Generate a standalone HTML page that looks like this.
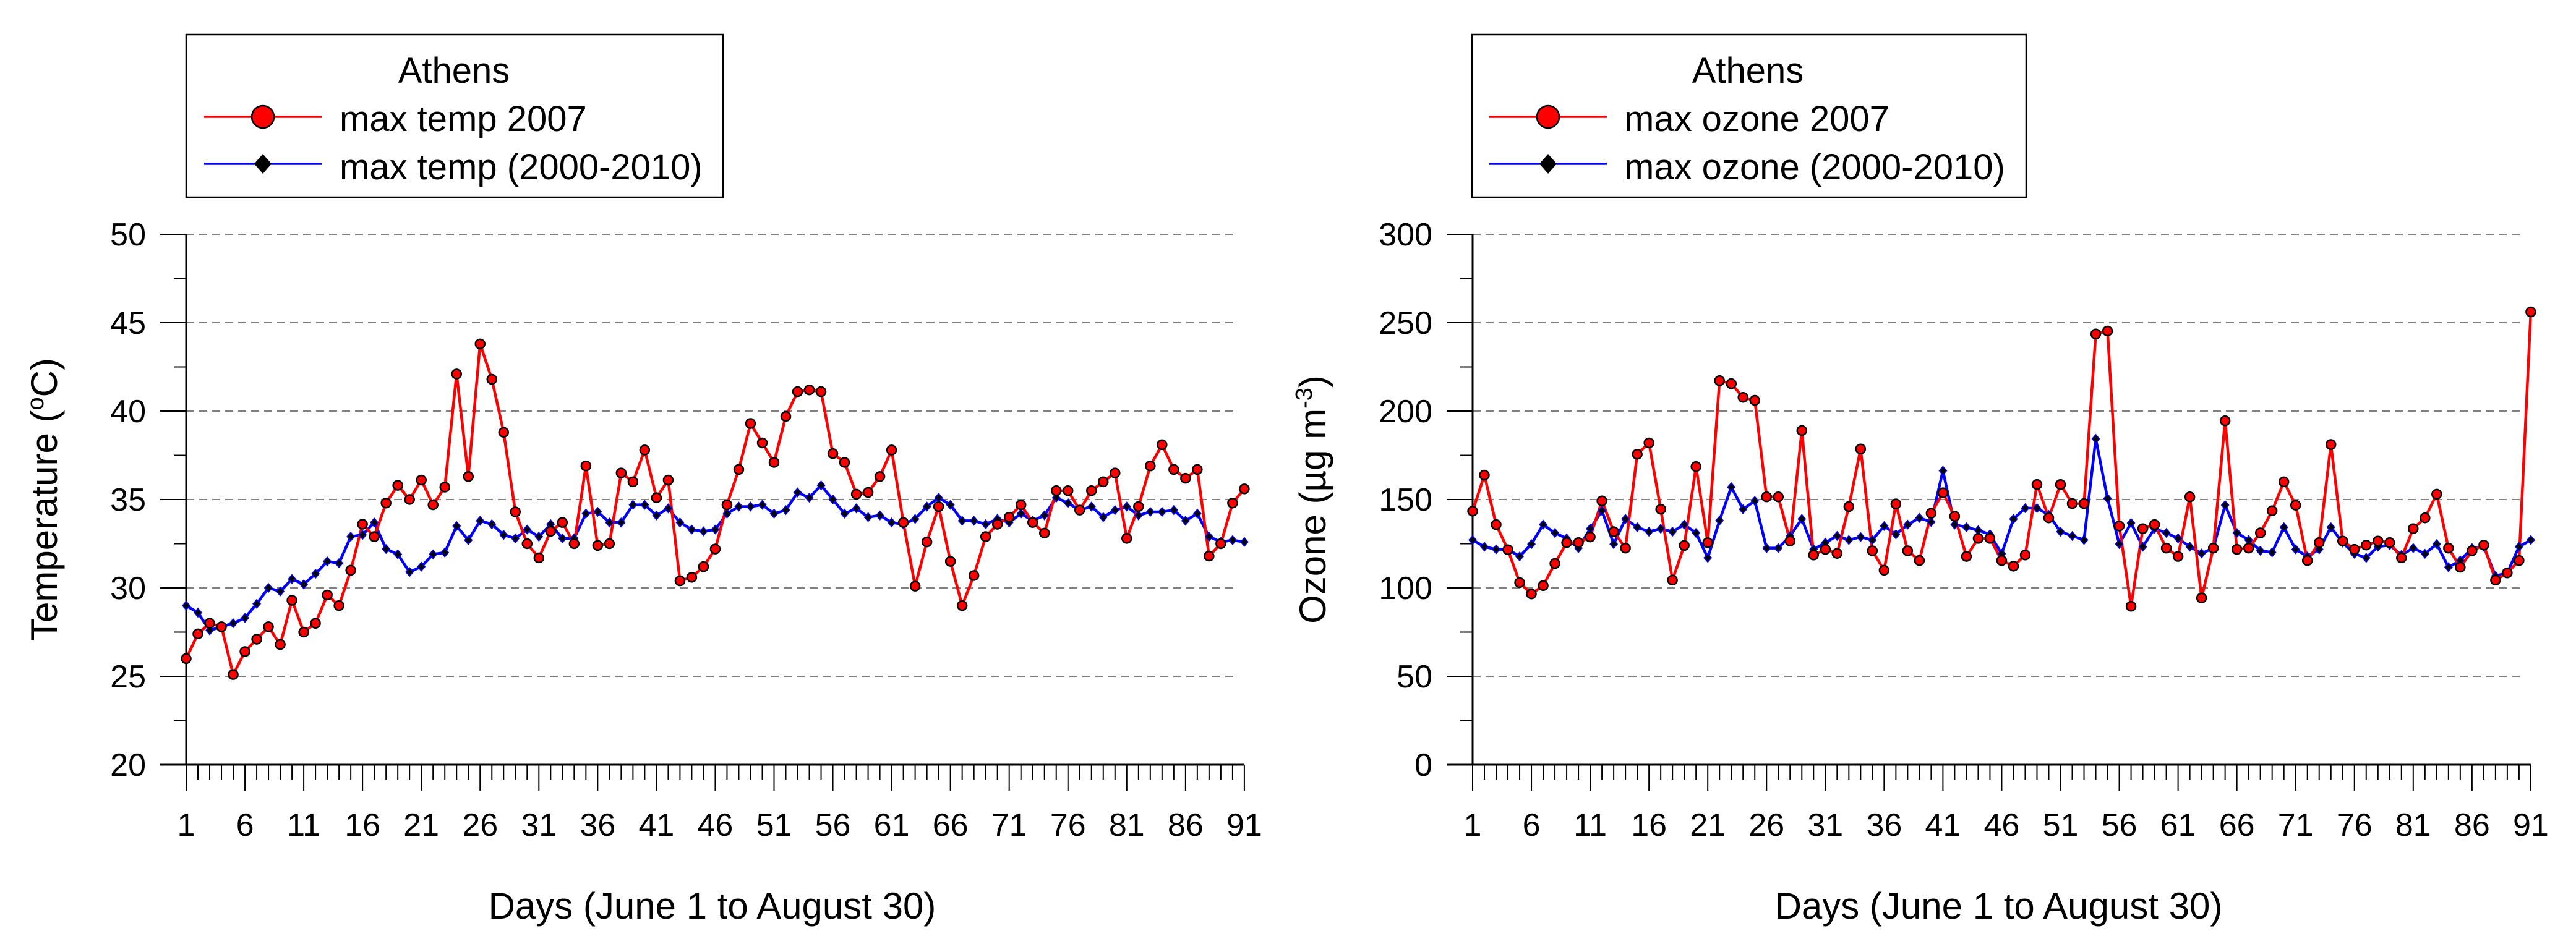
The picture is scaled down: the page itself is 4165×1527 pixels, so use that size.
<!DOCTYPE html>
<html><head><meta charset="utf-8"><style>
html,body{margin:0;padding:0;background:#fff;}
svg{display:block;font-family:"Liberation Sans",Arial,sans-serif;}
</style></head><body>
<svg id="svg" width="4165" height="1527" viewBox="0 0 4165 1527" xmlns="http://www.w3.org/2000/svg"></svg>
<script>
const days = Array.from({length:91},(_,i)=>i+1);
const tempYearValues = [26.0,27.4,28.0,27.8,25.1,26.4,27.1,27.8,26.8,29.3,27.5,28.0,29.6,29.0,31.0,33.6,32.9,34.8,35.8,35.0,36.1,34.7,35.7,42.1,36.3,43.8,41.8,38.8,34.3,32.5,31.7,33.2,33.7,32.5,36.9,32.4,32.5,36.5,36.0,37.8,35.1,36.1,30.4,30.6,31.2,32.2,34.7,36.7,39.3,38.2,37.1,39.7,41.1,41.2,41.1,37.6,37.1,35.3,35.4,36.3,37.8,33.7,30.1,32.6,34.6,31.5,29.0,30.7,32.9,33.6,34.0,34.7,33.7,33.1,35.5,35.5,34.4,35.5,36.0,36.5,32.8,34.6,36.9,38.1,36.7,36.2,36.7,31.8,32.5,34.8,35.6];
const tempClimValues = [29.0,28.6,27.6,27.8,28.0,28.3,29.1,30.0,29.8,30.5,30.2,30.8,31.5,31.4,32.9,33.0,33.7,32.2,31.9,30.9,31.2,31.9,32.0,33.5,32.7,33.8,33.6,33.0,32.8,33.3,32.9,33.6,32.8,32.8,34.2,34.3,33.7,33.7,34.7,34.7,34.1,34.5,33.7,33.3,33.2,33.3,34.2,34.6,34.6,34.7,34.2,34.4,35.4,35.1,35.8,35.0,34.2,34.5,34.0,34.1,33.7,33.6,33.9,34.6,35.1,34.7,33.8,33.8,33.6,33.9,33.7,34.2,33.8,34.1,35.1,34.8,34.4,34.6,34.0,34.4,34.6,34.1,34.3,34.3,34.4,33.8,34.2,32.9,32.6,32.7,32.6];
const ozoneYearValues = [143.4,163.8,135.8,121.6,103.0,96.6,101.3,113.8,125.6,125.6,128.8,149.2,131.8,122.5,175.6,182.0,144.5,104.4,124.0,168.6,125.6,217.2,215.5,207.8,206.1,151.5,151.5,126.5,189.0,118.6,121.8,119.5,146.0,178.6,121.0,110.0,147.5,121.0,115.5,142.2,153.8,140.5,117.8,128.0,128.0,115.5,112.3,118.6,158.5,139.6,158.5,147.7,147.7,243.6,245.3,135.0,89.6,133.5,135.8,122.5,117.8,151.5,94.3,122.5,194.5,121.8,122.5,131.1,143.6,160.0,146.8,115.5,125.6,181.1,126.5,121.8,124.2,126.5,125.6,117.0,133.5,139.6,153.0,122.5,111.7,121.0,124.2,104.4,108.5,115.5,256.1];
const ozoneClimValues = [127.1,123.3,121.8,121.8,117.8,124.8,135.8,131.1,128.0,122.5,133.5,143.6,124.8,139.0,134.3,131.8,133.5,131.8,135.8,131.1,117.0,138.1,157.0,144.5,149.2,122.5,122.5,129.4,139.0,121.8,125.6,129.4,127.1,128.8,127.1,135.0,130.3,135.8,139.6,137.3,166.3,135.8,134.3,132.6,130.3,119.3,139.0,145.1,145.1,141.3,131.8,129.4,127.1,184.3,150.6,124.8,136.7,123.3,133.5,131.1,128.0,123.3,119.5,122.5,146.8,131.1,127.1,121.0,120.1,134.3,121.8,117.8,121.8,134.3,125.6,119.3,117.0,123.3,124.2,118.6,122.5,119.3,124.8,111.7,115.5,122.5,123.3,106.8,108.5,123.3,127.1];
const tempTicks = [20,25,30,35,40,45,50];
const ozoneTicks = [0,50,100,150,200,250,300];
const dayTickLabels = [1,6,11,16,21,26,31,36,41,46,51,56,61,66,71,76,81,86,91];

const NS='http://www.w3.org/2000/svg';
const svg=document.getElementById('svg');
function mk(tag,attrs,parent){const e=document.createElementNS(NS,tag);for(const k in attrs)e.setAttribute(k,attrs[k]);(parent||svg).appendChild(e);return e;}

function drawPanel(cfg){
  const g=mk('g',{});
  
  
  const x0=cfg.x0, x91=cfg.x0+90*19.01, yTop=379, yBot=1237;
  const gridEnd=x91-10;
  const xs=d=>x0+(d-1)*(x91-x0)/90;
  const ys=v=>yBot-(v-cfg.min)/(cfg.max-cfg.min)*(yBot-yTop);
  cfg.ticks.forEach(t=>{
    if(t===cfg.min) return;
    const l=mk('line',{x1:x0,x2:gridEnd,y1:ys(t),y2:ys(t),stroke:'#808080','stroke-width':2,'stroke-dasharray':'13,8'},g);
    
    
  });
  const step=cfg.ticks[1]-cfg.ticks[0];
  cfg.ticks.forEach((t,i)=>{
    mk('line',{x1:x0-42,x2:x0,y1:ys(t),y2:ys(t),stroke:'#000','stroke-width':2},g);
    if(i<cfg.ticks.length-1){const m=t+step/2;mk('line',{x1:x0-20,x2:x0,y1:ys(m),y2:ys(m),stroke:'#000','stroke-width':2},g);}
    const tx=mk('text',{x:x0-65,y:ys(t)+18,'text-anchor':'end','font-size':52,fill:'#000'},g);
    tx.textContent=t;
    
    
  });
  days.forEach(d=>{
    const major=(d-1)%5===0;
    mk('line',{x1:xs(d),x2:xs(d),y1:yBot,y2:yBot+(major?42:24),stroke:'#000','stroke-width':2},g);
  });
  dayTickLabels.forEach(d=>{
    const tx=mk('text',{x:xs(d),y:yBot+115,'text-anchor':'middle','font-size':52,fill:'#000'},g);
    tx.textContent=d;
    
    
  });
  const ya=mk('line',{x1:x0,x2:x0,y1:yTop,y2:yBot,stroke:'#000','stroke-width':3},g);
  
  
  const xa=mk('line',{x1:x0-42,x2:x91,y1:yBot,y2:yBot,stroke:'#000','stroke-width':3},g);
  
  
  const xt=mk('text',{x:(x0+x91)/2-5,y:1486,'text-anchor':'middle','font-size':60,fill:'#000'},g);
  xt.textContent='Days (June 1 to August 30)';
  
  
  const yt=mk('text',{x:0,y:0,'text-anchor':'middle','font-size':60,fill:'#000',transform:`translate(${cfg.ytX},808) rotate(-90)`},g);
  yt.innerHTML=cfg.ytitle;
  
  
  const bp=mk('polyline',{points:cfg.clim.map((v,i)=>xs(days[i])+','+ys(v)).join(' '),fill:'none',stroke:'#0000ff','stroke-width':4.5},g);
  
  
  const rp=mk('polyline',{points:cfg.year.map((v,i)=>xs(days[i])+','+ys(v)).join(' '),fill:'none',stroke:'#ff0000','stroke-width':4.5},g);
  
  
  cfg.clim.forEach((v,i)=>{
    const cx=xs(days[i]),cy=ys(v);
    const p=mk('polygon',{points:`${cx},${cy-7} ${cx+6},${cy} ${cx},${cy+7} ${cx-6},${cy}`,fill:'#000',stroke:'#0000ff','stroke-width':1.5},g);
    
    
  });
  cfg.year.forEach((v,i)=>{
    const c=mk('circle',{cx:xs(days[i]),cy:ys(v),r:7.5,fill:'#ff0000',stroke:'#000','stroke-width':2.5},g);
    
    
  });
  const L=cfg.leg;
  const lg=mk('g',{},g);
  
  
  mk('rect',{x:L.x,y:56,width:L.w,height:263,fill:'#fff',stroke:'#000','stroke-width':2.5},lg);
  const at=mk('text',{x:L.cx,y:134,'text-anchor':'middle','font-size':58,fill:'#000'},lg);
  at.textContent='Athens';
  
  
  mk('line',{x1:L.lx,x2:L.lx+190,y1:189,y2:189,stroke:'#ff0000','stroke-width':3.5},lg);
  mk('circle',{cx:L.lx+95,cy:189,r:18,fill:'#ff0000',stroke:'#000','stroke-width':2.5},lg);
  const t1=mk('text',{x:L.tx,y:212,'font-size':58,fill:'#000'},lg);
  t1.textContent=cfg.leg1;
  
  
  mk('line',{x1:L.lx,x2:L.lx+190,y1:265,y2:265,stroke:'#0000ff','stroke-width':3.5},lg);
  mk('polygon',{points:`${L.lx+95},${265-16} ${L.lx+109},265 ${L.lx+95},${265+16} ${L.lx+81},265`,fill:'#000'},lg);
  const t2=mk('text',{x:L.tx,y:290,'font-size':58,fill:'#000'},lg);
  t2.textContent=cfg.leg2;
  
  
}

drawPanel({name:'temperature-panel',x0:301,min:20,max:50,ticks:tempTicks,year:tempYearValues,clim:tempClimValues,
  ytX:92,ytitle:'Temperature (<tspan font-size="38" dy="-22">o</tspan><tspan dy="22">C)</tspan>',
  leg:{x:301,w:868,cx:734,lx:330,tx:549},leg1:'max temp 2007',leg2:'max temp (2000-2010)'});
drawPanel({name:'ozone-panel',x0:2381,min:0,max:300,ticks:ozoneTicks,year:ozoneYearValues,clim:ozoneClimValues,
  ytX:2143,ytitle:'Ozone (µg m<tspan font-size="38" dy="-22">-3</tspan><tspan dy="22">)</tspan>',
  leg:{x:2380,w:896,cx:2826,lx:2408,tx:2626},leg1:'max ozone 2007',leg2:'max ozone (2000-2010)'});
</script>
</body></html>
